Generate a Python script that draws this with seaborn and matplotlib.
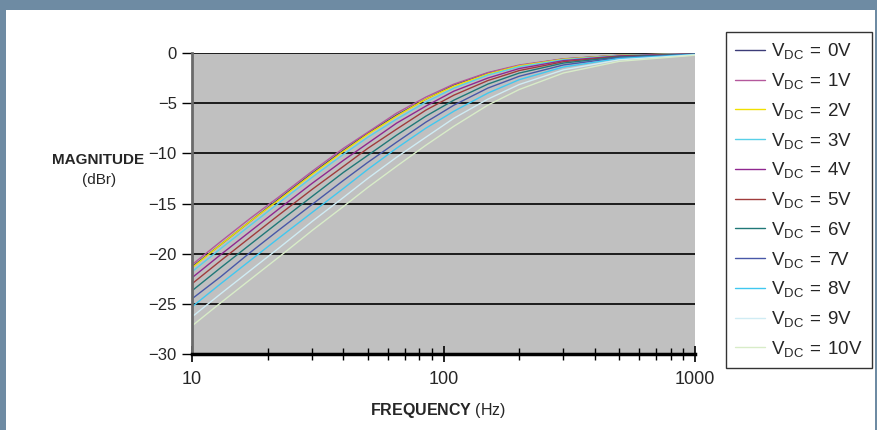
import numpy as np
import pandas as pd
import seaborn as sns
import matplotlib.pyplot as plt
from matplotlib.patches import Rectangle
from matplotlib.ticker import LogLocator, NullFormatter

# frequency points (Hz) and magnitude (dBr)
freq = [10, 13, 17, 22, 30, 40, 50, 65, 85, 110, 150, 200, 300, 500, 1000]

mag_0v = [-21.3, -19.1, -16.8, -14.6, -12.0, -9.7, -8.0, -6.2, -4.6, -3.2, -2.0, -1.26, -0.60, -0.23, -0.06]
mag_1v = [-21.1, -18.8, -16.5, -14.4, -11.8, -9.5, -7.9, -6.0, -4.4, -3.1, -1.95, -1.20, -0.58, -0.22, -0.06]
mag_2v = [-21.4, -19.1, -16.8, -14.7, -12.1, -9.8, -8.1, -6.3, -4.6, -3.3, -2.1, -1.28, -0.62, -0.23, -0.06]
mag_3v = [-21.8, -19.5, -17.2, -15.0, -12.4, -10.1, -8.4, -6.6, -4.9, -3.5, -2.2, -1.37, -0.67, -0.25, -0.06]
mag_4v = [-22.4, -20.1, -17.8, -15.6, -13.0, -10.7, -9.0, -7.0, -5.3, -3.8, -2.5, -1.55, -0.76, -0.29, -0.07]
mag_5v = [-23.0, -20.7, -18.4, -16.2, -13.6, -11.3, -9.5, -7.6, -5.7, -4.2, -2.75, -1.75, -0.87, -0.33, -0.09]
mag_6v = [-23.7, -21.4, -19.1, -16.9, -14.3, -11.9, -10.2, -8.2, -6.3, -4.7, -3.1, -2.0, -1.00, -0.39, -0.10]
mag_7v = [-24.5, -22.3, -19.9, -17.7, -15.1, -12.7, -10.9, -8.9, -6.9, -5.2, -3.5, -2.32, -1.19, -0.46, -0.12]
mag_8v = [-25.3, -23.0, -20.7, -18.5, -15.9, -13.5, -11.6, -9.5, -7.5, -5.8, -4.0, -2.66, -1.39, -0.55, -0.14]
mag_9v = [-26.3, -24.0, -21.7, -19.5, -16.8, -14.4, -12.5, -10.4, -8.4, -6.5, -4.6, -3.14, -1.68, -0.68, -0.18]
mag_10v = [-27.2, -24.9, -22.6, -20.4, -17.7, -15.3, -13.4, -11.3, -9.2, -7.3, -5.2, -3.64, -1.99, -0.83, -0.22]

series = [mag_0v, mag_1v, mag_2v, mag_3v, mag_4v, mag_5v, mag_6v, mag_7v, mag_8v, mag_9v, mag_10v]
labels = [r'$\mathregular{V_{DC}\,=\,%dV}$' % i for i in range(11)]
colors = ['#3c3c78', '#b4589c', '#f0e000', '#58d0e8', '#902890', '#a03c3c',
          '#207878', '#4858a8', '#40c8f0', '#d0ecf4', '#d8ecc8']

y_ticks = [-30, -25, -20, -15, -10, -5, 0]
x_ticks = [10, 100, 1000]
x_labels = ['10', '100', '1000']

rows = []
for lab, vals in zip(labels, series):
    for f, m in zip(freq, vals):
        rows.append({'freq': f, 'mag': m, 'vdc': lab})
df = pd.DataFrame(rows)

sns.set_style('white')
plt.rcParams['font.family'] = ['Liberation Sans', 'DejaVu Sans']
plt.rcParams['mathtext.fontset'] = 'custom'
plt.rcParams['mathtext.rm'] = 'Liberation Sans'
plt.rcParams['mathtext.bf'] = 'Liberation Sans:bold'

W, H = 877, 430
fig = plt.figure(figsize=(W / 100, H / 100), dpi=100)
fig.patch.set_facecolor('#6e8ba3')
fig.add_artist(Rectangle((6 / W, 0), (875 - 6) / W, (H - 10) / H, transform=fig.transFigure,
                         facecolor='white', edgecolor='none', zorder=-10))

ax = fig.add_axes([192 / W, 1 - 354 / H, (695 - 192) / W, (354 - 53) / H])
ax.set_facecolor('#c0c0c0')

sns.lineplot(data=df, x='freq', y='mag', hue='vdc', palette=colors, linewidth=1.0, ax=ax)

ax.set_xscale('log')
ax.set_xlim(10, 1000)
ax.set_ylim(-30, 0)
ax.set_xticks(x_ticks, labels=x_labels)
ax.xaxis.set_minor_locator(LogLocator(base=10, subs=np.arange(2, 10)))
ax.xaxis.set_minor_formatter(NullFormatter())
ax.set_yticks(y_ticks)
ax.yaxis.grid(True, color='black', linewidth=1.2)
ax.xaxis.grid(False)
ax.set_axisbelow(True)

ax.tick_params(axis='y', direction='out', length=7, width=1, color='black', labelsize=12, pad=4, left=True)
ax.tick_params(axis='x', which='major', direction='inout', length=11, width=1.2, color='black',
               labelsize=13, pad=7, bottom=True)
ax.tick_params(axis='x', which='minor', direction='inout', length=9, width=1, color='black', bottom=True)

for s in ['top', 'right']:
    ax.spines[s].set_visible(False)
ax.spines['bottom'].set_color('black')
ax.spines['bottom'].set_linewidth(2.5)
ax.spines['left'].set_color('#6a6a6a')
ax.spines['left'].set_linewidth(2)

ax.set_xlabel('')
ax.set_ylabel('')

fig.text(98 / W, 1 - 160 / H, 'MAGNITUDE', fontsize=11, fontweight='bold', ha='center', va='center')
fig.text(99 / W, 1 - 180 / H, '(dBr)', fontsize=11, ha='center', va='center')
fig.text(438 / W, 1 - 410 / H, r'$\mathbf{FREQUENCY}$ (Hz)', fontsize=11.5, ha='center', va='center')

leg = ax.legend(loc='upper left', bbox_to_anchor=(726 / W, 1 - 32 / H), bbox_transform=fig.transFigure,
                borderaxespad=0, frameon=True, fancybox=False, fontsize=13.5, handlelength=1.6,
                handletextpad=0.3, labelspacing=0.52, borderpad=0.5)
leg.get_frame().set_edgecolor('black')
leg.get_frame().set_linewidth(1)

fig.savefig('out.png', dpi=100, facecolor=fig.get_facecolor())
